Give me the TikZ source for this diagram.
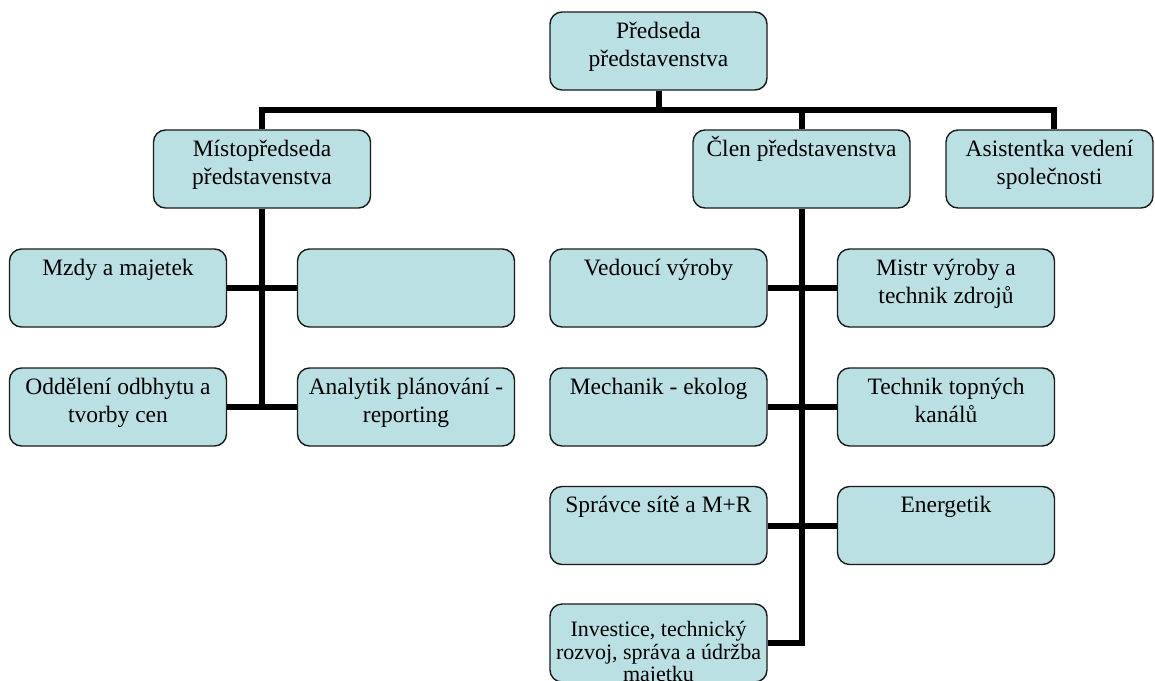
\documentclass[tikz,border=0pt]{standalone}
\usepackage{fontspec}
\setmainfont{Liberation Serif}
\usepackage{xcolor}
\usepackage{tikz}
\usetikzlibrary{positioning, calc}
\definecolor{BoxBlue}{HTML}{BAE0E3}
\definecolor{BoxEdge}{HTML}{1A1A1A}

\begin{document}
\begin{tikzpicture}[
    x=1pt, y=-1pt,
    unit/.style={draw=BoxEdge, line width=1.4pt, rounded corners=12pt, fill=BoxBlue,
        minimum width=217pt, minimum height=78pt, inner sep=0pt,
        font=\fontsize{23.5}{28}\selectfont,
        execute at begin node={\begin{minipage}[c][78pt][t]{205pt}\centering\vspace*{6.5pt}\strut},
        execute at end node={\end{minipage}}},
    narrow/.style={unit, minimum width=207pt},
    conn/.style={line width=6pt, black}
]
\useasboundingbox (0,0) rectangle (1155,680);

% Top
\node[unit] (pred) at (658.5, 51) {Předseda\\představenstva};

% Row 1
\node[unit] (mist) at (262, 169) {Místopředseda\\představenstva};
\node[unit] (clen) at (801.5, 169) {Člen představenstva};
\node[narrow] (asist) at (1049.5, 169) {Asistentka vedení\\společnosti};

% Left branch
\node[unit] (mzdy) at (118, 288) {Mzdy a majetek};
\node[unit] (blank) at (406, 288) {};
\node[unit] (odd) at (118, 407) {Oddělení odbhytu a\\tvorby cen};
\node[unit] (anal) at (406, 407) {Analytik plánování -\\reporting};

% Right branch
\node[unit] (ved) at (658.5, 288) {Vedoucí výroby};
\node[unit] (mistr) at (946, 288) {Mistr výroby a\\technik zdrojů};
\node[unit] (mech) at (658.5, 407) {Mechanik - ekolog};
\node[unit] (tech) at (946, 407) {Technik topných\\kanálů};
\node[unit] (sprav) at (658.5, 525.5) {Správce sítě a M+R};
\node[unit] (energ) at (946, 525.5) {Energetik};
\node[unit, font=\fontsize{22}{30.5}\selectfont] (inv) at (658.5, 643)
    {\rule{0pt}{26pt}Investice, technický\\[-8pt]rozvoj, správa a údržba\\[-8pt]majetku};

% Bus
\coordinate (busL) at (262, 110);
\coordinate (busR) at (1054, 110);
\draw[conn] (pred.south) -- (pred.south |- busL);
\draw[conn] (mist.north) -- (busL) -- (busR) -- (busR |- asist.north);
\draw[conn] (clen.north) -- (clen.north |- busL);

% Left spine
\draw[conn, shorten >=-3pt] (mist.south) -- (mist.south |- odd.east);
\draw[conn] (mzdy.east) -- (blank.west);
\draw[conn] (odd.east) -- (anal.west);

% Right spine
\draw[conn] (clen.south) |- (inv.east);
\draw[conn] (ved.east) -- (mistr.west);
\draw[conn] (mech.east) -- (tech.west);
\draw[conn] (sprav.east) -- (energ.west);
\end{tikzpicture}
\end{document}
